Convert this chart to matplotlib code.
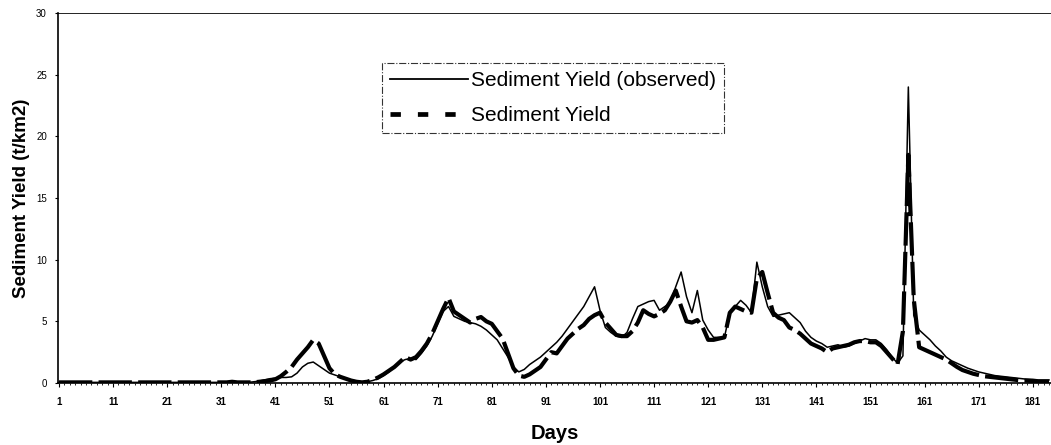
import numpy as np
import matplotlib
matplotlib.use("Agg")
import matplotlib.pyplot as plt
from matplotlib.lines import Line2D

plt.rcParams['font.family'] = ['Liberation Sans', 'DejaVu Sans']

# ---------------------------------------
# Daily sediment yield (t/km2), days 1..184
# ---------------------------------------
days = np.arange(1, 185)

observed = [
    0.05, 0.05, 0.05, 0.05, 0.05, 0.05, 0.05, 0.05, 0.05, 0.05,
    0.05, 0.05, 0.05, 0.05, 0.05, 0.05, 0.05, 0.05, 0.05, 0.05,
    0.05, 0.05, 0.05, 0.05, 0.05, 0.05, 0.05, 0.05, 0.05, 0.05,
    0.05, 0.05, 0.05, 0.05, 0.05, 0.05, 0.1, 0.15, 0.25, 0.35,
    0.4, 0.45, 0.45, 0.5, 0.8, 1.3, 1.6, 1.7, 1.4, 1.1,
    0.8, 0.65, 0.5, 0.35, 0.25, 0.15, 0.1, 0.1, 0.2, 0.35,
    0.6, 0.9, 1.3, 1.7, 1.9, 2.0, 1.9, 2.4, 3.0, 3.8,
    4.8, 5.8, 6.2, 5.4, 5.2, 5.0, 4.9, 4.8, 4.6, 4.3,
    3.9, 3.5, 2.8, 2.1, 1.3, 0.9, 1.1, 1.5, 1.8, 2.1,
    2.5, 2.9, 3.3, 3.8, 4.4, 5.0, 5.6, 6.2, 7.0, 7.8,
    5.9, 4.5, 4.1, 3.8, 3.7, 4.1, 5.2, 6.2, 6.4, 6.6,
    6.7, 5.9, 6.2, 6.5, 7.8, 9.0, 7.0, 5.7, 7.5, 5.1,
    4.3, 3.7, 3.7, 3.7, 5.7, 6.2, 6.7, 6.3, 5.7, 9.8,
    7.8, 6.2, 5.4, 5.5, 5.6, 5.7, 5.3, 4.9, 4.2, 3.7,
    3.4, 3.2, 2.9, 3.0, 3.1, 2.9, 3.0, 3.2, 3.4, 3.6,
    3.5, 3.5, 3.2, 2.7, 2.1, 1.6, 2.2, 24.0, 5.5, 4.3,
    3.9, 3.5, 3.0, 2.6, 2.1, 1.8, 1.6, 1.4, 1.2, 1.05,
    0.9, 0.8, 0.7, 0.6, 0.55, 0.5, 0.45, 0.4, 0.35, 0.3,
    0.3, 0.25, 0.25, 0.25,
]

simulated = [
    0.05, 0.05, 0.05, 0.05, 0.05, 0.05, 0.05, 0.05, 0.05, 0.05,
    0.05, 0.05, 0.05, 0.05, 0.05, 0.05, 0.05, 0.05, 0.05, 0.05,
    0.05, 0.05, 0.05, 0.05, 0.05, 0.05, 0.05, 0.05, 0.05, 0.05,
    0.05, 0.05, 0.1, 0.05, 0.05, 0.05, 0.05, 0.1, 0.15, 0.2,
    0.3, 0.55, 0.9, 1.3, 1.9, 2.4, 2.9, 3.5, 3.2, 2.2,
    1.2, 0.7, 0.5, 0.35, 0.2, 0.1, 0.05, 0.1, 0.25, 0.45,
    0.7, 1.0, 1.3, 1.7, 2.1, 1.9, 2.1, 2.6, 3.2, 4.0,
    5.0, 6.0, 6.9, 5.8, 5.5, 5.2, 4.9, 5.2, 5.35, 5.0,
    4.8, 4.2, 3.6, 2.4, 1.2, 0.6, 0.5, 0.7, 1.0, 1.3,
    1.9, 2.5, 2.4, 3.0, 3.6, 4.0, 4.4, 4.7, 5.2, 5.5,
    5.7, 4.9, 4.4, 3.9, 3.8, 3.8, 4.2, 4.9, 5.9, 5.6,
    5.4, 5.6, 5.9, 6.6, 7.5, 6.2, 5.0, 4.9, 5.1, 4.5,
    3.5, 3.5, 3.6, 3.7, 5.7, 6.2, 6.0, 5.8, 5.7, 8.5,
    9.0, 7.3, 5.7, 5.3, 5.1, 4.5, 4.3, 4.0, 3.6, 3.2,
    3.0, 2.8, 2.5, 2.8, 2.9, 3.0, 3.1, 3.3, 3.4, 3.4,
    3.3, 3.3, 3.0, 2.5, 2.0, 1.5, 4.2, 18.5, 6.8, 2.9,
    2.7, 2.5, 2.3, 2.1, 1.9, 1.6, 1.3, 1.05, 0.9, 0.75,
    0.65, 0.55, 0.5, 0.45, 0.4, 0.35, 0.3, 0.25, 0.2, 0.2,
    0.15, 0.1, 0.1, 0.1,
]

x_ticks = list(range(1, 182, 10))
y_ticks = [0, 5, 10, 15, 20, 25, 30]

# ---------------------------------------
# Figure
# ---------------------------------------
fig = plt.figure(figsize=(10.51, 4.45), dpi=100)
ax = fig.add_axes([58 / 1051, 1 - 383 / 445, 993 / 1051, 370 / 445])

ax.plot(days, observed, color='black', lw=1.1, solid_joinstyle='round')
ax.plot(days, simulated, color='black', lw=3.0,
        linestyle=(0, (8, 1.5)), dash_joinstyle='round', dash_capstyle='butt')

ax.set_xlim(0.82, 184.37)
ax.set_ylim(0, 30)
ax.set_xticks(x_ticks)
ax.set_xticks(days, minor=True)
ax.set_yticks(y_ticks)
ax.set_xticklabels([str(t) for t in x_ticks], fontsize=7, fontweight='bold')
ax.set_yticklabels([str(t) for t in y_ticks], fontsize=7)
ax.tick_params(axis='x', which='major', length=3, width=0.8, pad=7)
ax.tick_params(axis='x', which='minor', length=1.5, width=0.6)
ax.tick_params(axis='y', length=2, width=0.8, pad=6)

ax.spines['right'].set_visible(False)
ax.spines['top'].set_linewidth(0.6)
ax.spines['left'].set_linewidth(1.2)
ax.spines['bottom'].set_linewidth(1.2)

ax.set_xlabel("Days", fontsize=14.5, fontweight='bold', labelpad=12)
fig.text(22 / 1051, 1 - 198 / 445, "Sediment Yield (t/km2)", rotation=90,
         fontsize=13.5, fontweight='bold', ha='center', va='center')

# legend with its own handles
handles = [
    Line2D([], [], color='black', lw=1.3),
    Line2D([], [], color='black', lw=3.4, linestyle=(0, (2.2, 3.6))),
]
labels = ["Sediment Yield (observed)", "Sediment Yield"]
leg = fig.legend(handles, labels, loc='upper left',
                 bbox_to_anchor=(382 / 1051, 1 - 63 / 445),
                 fontsize=15, frameon=True, fancybox=False,
                 handlelength=3.75, handletextpad=0.1,
                 borderpad=0.4, labelspacing=0.75, borderaxespad=0)
frame = leg.get_frame()
frame.set_edgecolor('black')
frame.set_linewidth(0.8)
frame.set_linestyle('-.')

fig.savefig("out.png", dpi=100)
